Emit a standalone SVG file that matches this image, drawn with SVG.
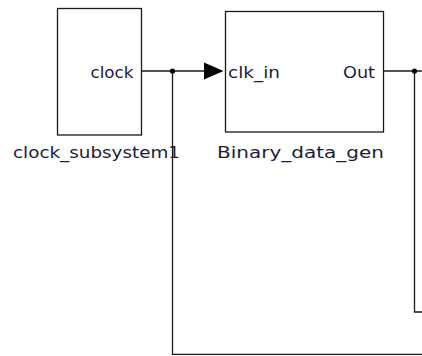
<svg xmlns="http://www.w3.org/2000/svg" width="422" height="356" viewBox="0 0 422 356">
  <style>
    .block { fill: #ffffff; stroke: #1a1a1a; stroke-width: 1.3; }
    .wire { fill: none; stroke: #1a1a1a; stroke-width: 1.3; }
    .port { font-family: "DejaVu Sans", "Liberation Sans", sans-serif; font-size: 15px; fill: #1c1c3a; }
    .name { font-family: "DejaVu Sans", "Liberation Sans", sans-serif; font-size: 15px; fill: #1c1c3a; }
    .dot { fill: #000000; }
    .head { fill: #000000; }
  </style>
  <rect width="422" height="356" fill="#ffffff"/>

  <g id="clock_subsystem1">
    <rect class="block" x="57.5" y="8.5" width="84" height="126.5"/>
    <text class="port" x="133.5" y="77.5" text-anchor="end" textLength="43" lengthAdjust="spacingAndGlyphs">clock</text>
    <text class="name" x="13" y="158" textLength="167" lengthAdjust="spacingAndGlyphs">clock_subsystem1</text>
  </g>

  <g id="Binary_data_gen">
    <rect class="block" x="225.5" y="11.5" width="158" height="120.5"/>
    <text class="port" x="228" y="77.5" textLength="52" lengthAdjust="spacingAndGlyphs">clk_in</text>
    <text class="port" x="375" y="77.5" text-anchor="end" textLength="32" lengthAdjust="spacingAndGlyphs">Out</text>
    <text class="name" x="217" y="158" textLength="167" lengthAdjust="spacingAndGlyphs">Binary_data_gen</text>
  </g>

  <g id="connectors">
    <!-- clock output to clk_in, with branch running down and right -->
    <path class="wire" d="M141.5,71 H205"/>
    <polygon class="head" points="204,62.5 223.5,71 204,79.5"/>
    <path class="wire" d="M172.5,71 V354.3 H422"/>
    <circle class="dot" cx="172.5" cy="71" r="2.6"/>
    <!-- Out signal -->
    <path class="wire" d="M383.5,71 H422"/>
    <path class="wire" d="M414.5,71 V312 H422"/>
    <circle class="dot" cx="414.5" cy="71" r="2.6"/>
  </g>
</svg>
